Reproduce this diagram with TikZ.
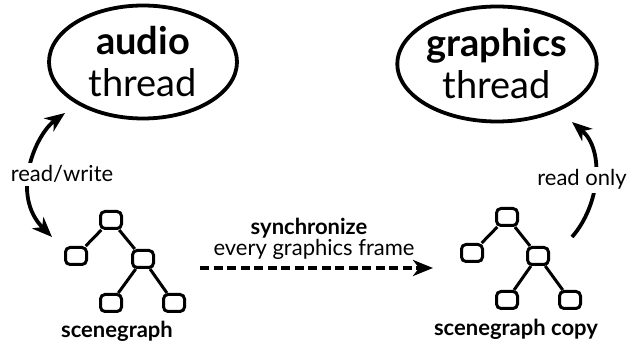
\documentclass[tikz,border=0pt]{standalone}
\usepackage{fontspec}
\setmainfont{Lato}
\usetikzlibrary{shapes.geometric,arrows.meta}
\begin{document}
\begin{tikzpicture}[x=1pt,y=-1pt,
  thread/.style={ellipse,draw,line width=3.8pt,inner sep=0pt,align=center,font=\fontsize{38}{42}\selectfont},
  sgbox/.style={draw,rounded corners=4.5pt,line width=3pt,minimum width=21pt,minimum height=17pt,inner sep=0pt},
  sgedge/.style={line width=3pt},
  tip/.tip={Stealth[length=20pt,width=16pt,inset=6pt]},
  arr/.style={line width=3.8pt,-tip},
  lbl/.style={fill=white,inner sep=3pt,font=\fontsize{22}{26}\selectfont},
  sgcaption/.style={font=\bfseries\fontsize{22}{26}\selectfont}]
\useasboundingbox (0,0) rectangle (640,344);
% threads
\node[thread,minimum width=188pt,minimum height=113pt] (audio) at (143,62) {\textbf{audio}\\thread};
\node[thread,minimum width=176pt,minimum height=115pt] (gfx) at (497,64) {\textbf{graphics}\\thread};
% left tree
\node[sgbox] (lr) at (111,220) {};
\node[sgbox] (ll) at (76,256) {};
\node[sgbox] (lm) at (143,259) {};
\node[sgbox] (lbl1) at (111,303) {};
\node[sgbox] (lbr) at (174,303) {};
\draw[sgedge] (lr) -- (ll);
\draw[sgedge] (lr) -- (lm);
\draw[sgedge] (lm) -- (lbl1);
\draw[sgedge] (lm) -- (lbr);
\node[sgcaption,anchor=base] (sgcap) at (117,338) {scenegraph};
% right tree
\node[sgbox] (rr) at (507,217) {};
\node[sgbox] (rl) at (472,253) {};
\node[sgbox] (rm) at (538,256) {};
\node[sgbox] (rbl) at (507,300) {};
\node[sgbox] (rbr) at (570,300) {};
\draw[sgedge] (rr) -- (rl);
\draw[sgedge] (rr) -- (rm);
\draw[sgedge] (rm) -- (rbl);
\draw[sgedge] (rm) -- (rbr);
\node[sgcaption,anchor=base] (sgcopy) at (516,336) {scenegraph copy};
% read/write
\coordinate (rwtop) at (65,113);
\coordinate (rwbot) at (52,237);
\draw[arr,tip-tip] (rwtop) .. controls (35,135) and (10,195) .. (rwbot);
\node[lbl,anchor=base] (rw) at (62,182) {read/write};
% read only
\coordinate (rotop) at (572,122);
\coordinate (robot) at (572,237);
\draw[arr] (robot) .. controls (600,205) and (605,150) .. (rotop);
\node[lbl,anchor=base] (ro) at (582,186) {read only};
% synchronize
\coordinate (syncs) at (200,268);
\coordinate (synce) at (433,268);
\draw[arr,dash pattern=on 9pt off 4.5pt] (syncs) -- (synce);
\node[font=\bfseries\fontsize{22}{26}\selectfont,anchor=base] (sync) at (309,235) {synchronize};
\node[font=\fontsize{22}{26}\selectfont,anchor=base] (every) at (314,256) {every graphics frame};
\end{tikzpicture}
\end{document}
